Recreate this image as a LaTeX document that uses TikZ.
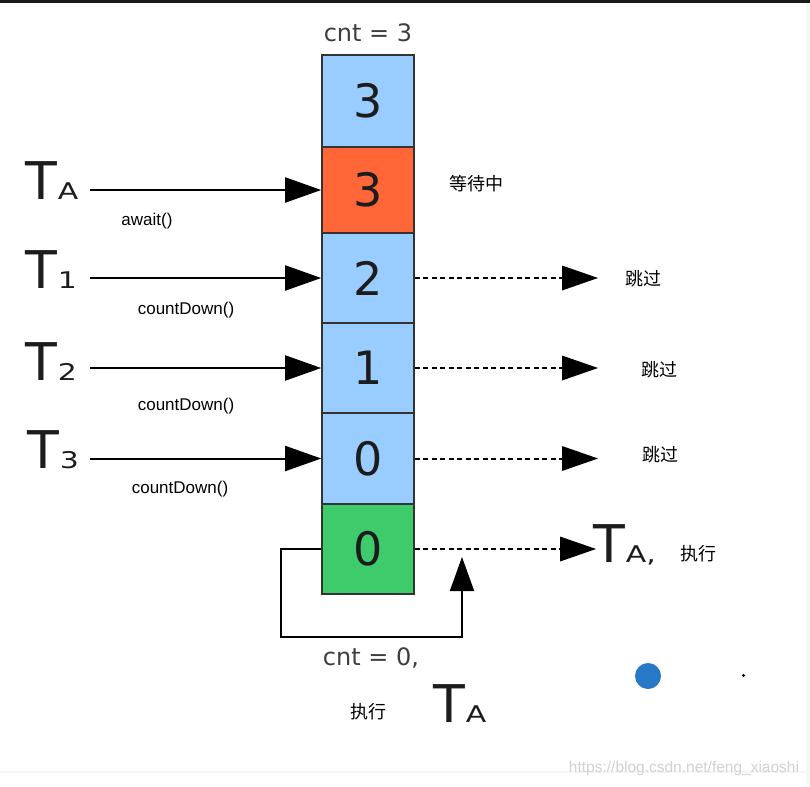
\documentclass[tikz,border=0pt]{standalone}
\usepackage{fontspec}
\usetikzlibrary{arrows.meta}
\newfontfamily\dvs{DejaVu Sans}
\newfontfamily\lib{Liberation Sans}
\newfontfamily\cjk{Noto Sans CJK SC}
\definecolor{cblue}{RGB}{153,204,255}
\definecolor{cred}{RGB}{255,102,56}
\definecolor{cgreen}{RGB}{62,203,108}
\definecolor{cdot}{RGB}{40,120,200}
\definecolor{ink}{RGB}{28,28,28}
\newcommand{\Tlab}[1]{{\fontsize{52}{52}\selectfont T}\kern1pt{\fontsize{23}{23}\selectfont\scalebox{1.3}[1]{#1}}}
\tikzset{
  cell/.style={draw=ink!90, line width=1.6pt, minimum width=92pt, inner sep=0pt,
    font=\dvs\fontsize{46}{46}\selectfont, text=ink},
  tlab/.style={anchor=base west, inner sep=0pt, font=\dvs, text=ink},
  mlab/.style={inner sep=0pt, font=\lib\fontsize{17}{17}\selectfont, text=black},
  clab/.style={inner sep=0pt, font=\cjk\fontsize{18}{18}\selectfont, text=black},
  cntlab/.style={inner sep=0pt, font=\dvs\fontsize{24}{24}\selectfont, text=ink!85},
  arr/.style={line width=2pt, draw=black, -{Triangle[length=36pt,width=25pt]}},
  darr/.style={line width=2pt, draw=black, dash pattern=on 5pt off 3.5pt,
    -{Triangle[length=36pt,width=25pt,line width=0pt]}},
}
\begin{document}
\begin{tikzpicture}[x=1pt,y=-1pt]
\useasboundingbox (0,0) rectangle (810,786);
\fill[white] (0,0) rectangle (810,786);
\fill[black!90] (0,0) rectangle (810,3);
\fill[black!4] (0,771) rectangle (806,773);
\fill[black!3] (806,3) rectangle (810,786);

% column of cells
\node[cell, fill=cblue, minimum height=92pt] (b1) at (368,101) {3};
\node[cell, fill=cred, minimum height=86pt] (b2) at (368,190) {3};
\node[cell, fill=cblue, minimum height=90pt] (b3) at (368,278) {2};
\node[cell, fill=cblue, minimum height=90pt] (b4) at (368,368) {1};
\node[cell, fill=cblue, minimum height=91pt] (b5) at (368,458.5) {0};
\node[cell, fill=cgreen, minimum height=90pt] (b6) at (368,549) {0};

\node[cntlab] (cnt3) at (368,33) {cnt = 3};

% thread labels
\node[tlab] (tA) at (25,200) {\Tlab{A}};
\node[tlab] (t1) at (25,288) {\Tlab{1}};
\node[tlab] (t2) at (25,380) {\Tlab{2}};
\node[tlab] (t3) at (27,468) {\Tlab{3}};

\coordinate (sA) at (90,190);
\coordinate (s1) at (90,278);
\coordinate (s2) at (90,368);
\coordinate (s3) at (90,458.5);
\draw[arr] (sA) -- (b2.west);
\draw[arr] (s1) -- (b3.west);
\draw[arr] (s2) -- (b4.west);
\draw[arr] (s3) -- (b5.west);

\node[mlab] (aw) at (147,221) {await()};
\node[mlab] (cd1) at (186,310) {countDown()};
\node[mlab] (cd2) at (186,406) {countDown()};
\node[mlab] (cd3) at (180,489) {countDown()};

% right side
\node[clab] (wait) at (476,184) {等待中};
\coordinate (e3) at (598,278);
\coordinate (e4) at (598,368);
\coordinate (e5) at (598,458.5);
\coordinate (e6) at (596,549);
\draw[darr] (b3.east) -- (e3);
\draw[darr] (b4.east) -- (e4);
\draw[darr] (b5.east) -- (e5);
\draw[darr] (b6.east) -- (e6);
\node[clab] (skip1) at (643,279) {跳过};
\node[clab] (skip2) at (659,370) {跳过};
\node[clab] (skip3) at (660,455) {跳过};
\node[tlab] (tAr) at (593,562) {\Tlab{A,}};
\node[clab] (run1) at (698,554) {执行};

% loop back
\coordinate (loopend) at (462,557);
\draw[line width=2pt, -{Triangle[length=34pt,width=24pt]}]
  (b6.west) -- ++(-40,0) -- ++(0,88) -| (loopend);
\node[cntlab, anchor=base] (cnt0) at (371,665) {cnt = 0,};
\node[clab] (run2) at (368,712) {执行};
\node[tlab] (tAb) at (433,722) {\Tlab{A}};

% dots
\fill[cdot] (648,676) circle (13);
\fill[black] (743.5,675.5) circle (1.6);

% watermark
\node[inner sep=0pt, font=\lib\fontsize{15.5}{15.5}\selectfont, text=black!18] (wm) at (684,768) {https://blog.csdn.net/feng\_xiaoshi};
\end{tikzpicture}
\end{document}
